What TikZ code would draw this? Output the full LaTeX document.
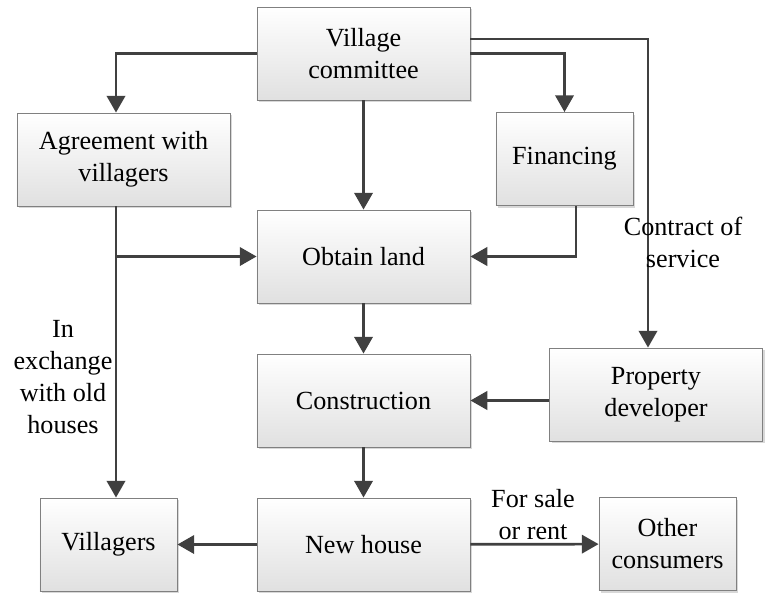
\documentclass[tikz,border=0pt]{standalone}
\usepackage{fontspec}
\setmainfont{Liberation Serif}
\usetikzlibrary{arrows.meta,shadows}

\tikzset{
  box/.style={draw=black!50, line width=0.6pt, top color=white, bottom color=black!12,
    align=center, minimum height=2.325cm, inner sep=2pt,
    drop shadow={shadow xshift=0.06cm, shadow yshift=-0.06cm, fill=black!30, opacity=0.5}},
  wide/.style={box, minimum width=5.325cm},
  narrow/.style={box, minimum width=3.425cm},
  link/.style={draw=black!75, line width=1.9pt, -{Triangle[length=0.42cm,width=0.46cm]}},
  note/.style={align=center}
}

\begin{document}
\begin{tikzpicture}[x=0.025cm, y=-0.025cm, font=\fontsize{18.6}{22.7}\selectfont]
\useasboundingbox (0,0) rectangle (781,593);

% boxes
\node[wide] (vc) at (363.5,53.5) {Village\\committee};
\node[wide] (agree) at (123.5,159.5) {Agreement with\\villagers};
\node[narrow] (fin) at (564.5,159) {Financing};
\node[wide] (land) at (363.5,256.5) {Obtain land};
\node[wide] (constr) at (363.5,400.5) {Construction};
\node[wide] (prop) at (656,394.5) {Property\\developer};
\node[narrow] (vill) at (108.5,544.5) {Villagers};
\node[wide] (house) at (363.5,544.5) {New house};
\node[narrow] (other) at (667.5,544) {Other\\consumers};

% where the long vertical runs go
\coordinate (lx) at (116,0);
\coordinate (cx) at (648,0);

% connectors
\draw[link] (vc.west) -| (lx |- agree.north);
\draw[link] (vc) -- (land);
\draw[link] (vc.east) -| (fin.north);
\draw[link] ([yshift=0.36cm]vc.east) -| (cx |- prop.north);
\draw[link] ([xshift=0.29cm]fin.south) |- (land.east);
\draw[link] (lx |- land.west) -- (land.west);
\draw[link] (lx |- agree.south) -- (lx |- vill.north);
\draw[link] (land) -- (constr);
\draw[link] (prop.west |- constr.east) -- (constr.east);
\draw[link] (constr) -- (house);
\draw[link] (house) -- (vill);
\draw[link] (house) -- (other);

% labels
\node[note] (contract) at (683,242) {Contract of\\service};
\node[note] (exch) at (63,377) {In\\exchange\\with old\\houses};
\node[note] (sale) at (533,515) {For sale\\or rent};
\end{tikzpicture}
\end{document}
